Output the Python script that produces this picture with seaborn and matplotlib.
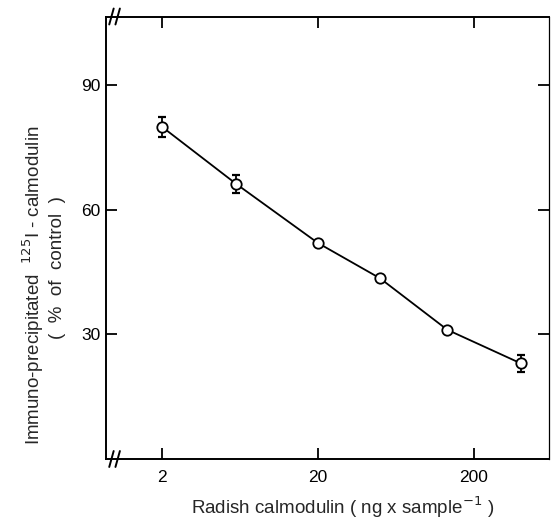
import matplotlib
matplotlib.use("Agg")
import matplotlib.pyplot as plt
import seaborn as sns
import numpy as np
import pandas as pd
from matplotlib.lines import Line2D

# data
conc = [2, 6, 20, 50, 135, 400]          # ng x sample^-1
precip = [80.0, 66.2, 52.0, 43.5, 31.1, 23.0]  # % of control
err = [2.4, 2.2, 0.0, 0.0, 0.0, 2.0]
xticks = [2, 20, 200]
xticklabels = ["2", "20", "200"]
yticks = [30, 60, 90]

sns.set_style("ticks")
plt.rcParams['font.family'] = ['Liberation Sans', 'DejaVu Sans']

fig = plt.figure(figsize=(5.51, 5.19), dpi=100)
ax = fig.add_axes([105.7/551, 1-459/519, (549-105.7)/551, (459-16.5)/519])

df = pd.DataFrame({"conc": conc, "precip": precip, "err": err})

# error bars
ax.errorbar(df["conc"], df["precip"], yerr=df["err"], fmt="none", ecolor="black",
            elinewidth=1.3, capsize=3.2, capthick=1.6, zorder=2)
sns.lineplot(data=df, x="conc", y="precip", ax=ax, color="black", linewidth=1.3,
             marker="o", markersize=7.5, markerfacecolor="white",
             markeredgecolor="black", markeredgewidth=1.3, zorder=3)

ax.set_xscale("log")
ax.set_xlim(0.875, 605)
ax.set_ylim(0, 106.5)
ax.set_xticks(xticks)
ax.set_xticklabels(xticklabels)
ax.minorticks_off()
ax.set_yticks(yticks)
ax.tick_params(axis="both", which="major", direction="in", length=8, width=1.3,
               labelsize=12.5, top=True, right=True, colors="black")
ax.tick_params(axis="x", pad=8)
ax.tick_params(axis="y", pad=4)
for s in ax.spines.values():
    s.set_linewidth(1.4)
    s.set_color("black")
ax.spines["right"].set_linewidth(0.9)
ax.set_xlabel("")
ax.set_ylabel("")

# axis break marks
for yy in [0.0, 1.0]:
    for xx in [0.012, 0.026]:
        ax.add_line(Line2D([xx - 0.004, xx + 0.006], [yy - 0.018, yy + 0.018],
                           transform=ax.transAxes, color="black", lw=1.4,
                           clip_on=False, zorder=5))

fig.text(343/551, 1-507/519, r"Radish calmodulin ( ng x sample$^{-1}$ )",
         ha="center", va="center", fontsize=13.5)
fig.text(33/551, 1-285/519, r"Immuno-precipitated  $^{125}$I - calmodulin",
         ha="center", va="center", rotation=90, fontsize=13.5)
fig.text(58/551, 1-268/519, "(  %  of  control  )",
         ha="center", va="center", rotation=90, fontsize=13.5)

fig.savefig("out.png", dpi=100)
